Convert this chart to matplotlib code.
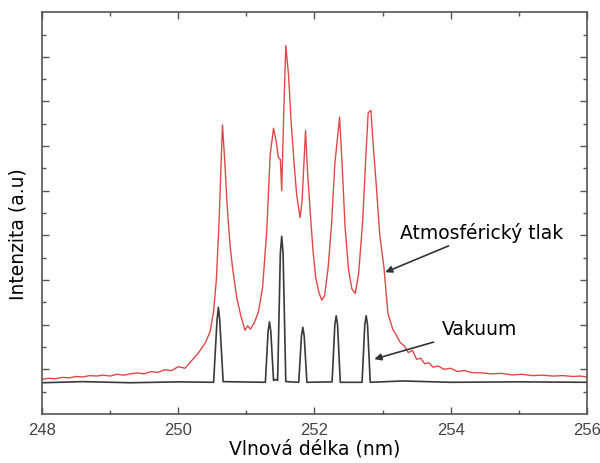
import numpy as np
import matplotlib.pyplot as plt

# atmospheric pressure spectrum (red)
atm_x = [248.00, 248.10, 248.20, 248.30, 248.40, 248.50, 248.60, 248.70, 248.80, 248.90,
         249.00, 249.10, 249.20, 249.30, 249.40, 249.50, 249.60, 249.70, 249.80, 249.90,
         250.00, 250.10, 250.20, 250.30, 250.40, 250.47, 250.52, 250.56, 250.60, 250.65,
         250.68, 250.72, 250.76, 250.80, 250.86, 250.92, 250.98, 251.02, 251.06, 251.12,
         251.18, 251.24, 251.30, 251.35, 251.40, 251.44, 251.47, 251.50, 251.52, 251.55,
         251.58, 251.62, 251.66, 251.70, 251.74, 251.79, 251.82, 251.87, 251.90, 251.94,
         251.98, 252.02, 252.07, 252.11, 252.15, 252.20, 252.25, 252.30, 252.37, 252.41,
         252.45, 252.50, 252.55, 252.60, 252.65, 252.71, 252.76, 252.79, 252.83, 252.86,
         252.91, 252.96, 253.02, 253.08, 253.15, 253.20, 253.26, 253.32, 253.38, 253.44,
         253.50, 253.56, 253.62, 253.68, 253.74, 253.82, 253.90, 254.00, 254.10, 254.20,
         254.30, 254.45, 254.60, 254.75, 254.90, 255.05, 255.20, 255.35, 255.50, 255.65,
         255.80, 255.90, 256.00]
atm_y = [1.55, 1.60, 1.58, 1.64, 1.62, 1.68, 1.66, 1.72, 1.70, 1.74,
         1.70, 1.78, 1.74, 1.80, 1.84, 1.80, 1.90, 1.86, 1.98, 1.94,
         2.12, 2.05, 2.40, 2.75, 3.20, 3.70, 4.60, 6.00, 8.60, 12.95,
         11.50, 9.30, 7.60, 6.50, 5.20, 4.40, 3.75, 3.95, 3.80, 4.10,
         4.60, 5.70, 8.20, 11.60, 12.80, 12.20, 11.50, 11.40, 10.00, 13.50,
         16.50, 15.20, 13.00, 11.30, 9.80, 8.80, 9.60, 12.70, 10.80, 9.00,
         7.30, 6.10, 5.40, 5.10, 5.30, 6.50, 8.40, 11.20, 13.30, 11.00,
         8.40, 6.50, 5.60, 5.40, 6.30, 8.70, 11.80, 13.50, 13.60, 12.20,
         10.20, 8.00, 6.60, 4.50, 3.80, 3.55, 3.20, 3.05, 2.75, 2.85,
         2.45, 2.50, 2.25, 2.30, 2.10, 2.15, 2.00, 2.05, 1.90, 1.95,
         1.86, 1.84, 1.80, 1.82, 1.75, 1.78, 1.72, 1.74, 1.70, 1.72,
         1.68, 1.70, 1.66]

# vacuum spectrum (black)
vac_x = [248.00, 248.60, 249.30, 250.00, 250.52, 250.57, 250.59, 250.61, 250.66,
         251.28, 251.32, 251.34, 251.36, 251.40, 251.43, 251.46, 251.50, 251.52, 251.54, 251.58,
         251.77, 251.81, 251.83, 251.85, 251.89, 252.26, 252.30, 252.32, 252.34, 252.38,
         252.70, 252.74, 252.76, 252.78, 252.82, 253.30, 254.00, 255.00, 256.00]
vac_y = [1.40, 1.45, 1.40, 1.44, 1.42, 4.20, 4.78, 4.20, 1.45,
         1.42, 3.70, 4.13, 3.70, 1.50, 1.55, 1.50, 7.20, 7.96, 7.20, 1.45,
         1.42, 3.50, 3.88, 3.50, 1.42, 1.44, 4.00, 4.40, 4.00, 1.42,
         1.42, 4.00, 4.40, 4.00, 1.42, 1.48, 1.42, 1.44, 1.42]

fig = plt.figure(figsize=(6, 4.64), dpi=100)
ax = fig.add_axes([0.07, 0.1056, 0.908, 0.866])

ax.plot(atm_x, atm_y, color='#e04848', lw=1.0)
ax.plot(vac_x, vac_y, color='#3a3a3a', lw=1.2)

ax.set_xlim(248, 256)
ax.set_ylim(0, 18)
ax.set_xticks([248, 250, 252, 254, 256])
ax.set_xticks([249, 251, 253, 255], minor=True)
ax.set_yticks(np.arange(2, 18, 2))
ax.set_yticks(np.arange(1, 18, 2), minor=True)
ax.set_yticklabels([])
ax.tick_params(which='both', direction='in', top=True, right=True, color='#555555')
ax.tick_params(which='major', length=5, width=1)
ax.tick_params(which='minor', length=3, width=1)
ax.tick_params(axis='x', labelsize=12, labelcolor='#444444', pad=6)
for lbl in ax.get_xticklabels():
    lbl.set_family('Liberation Sans')
for s in ax.spines.values():
    s.set_color('#555555')
    s.set_linewidth(1.2)

ax.set_xlabel('Vlnová délka (nm)', fontsize=13.5, labelpad=1)
ax.set_ylabel('Intenzita (a.u)', fontsize=13.5)
ax.yaxis.set_label_coords(-0.027, 0.45)

ax.annotate('Atmosférický tlak', xy=(253.04, 6.35), xytext=(253.26, 8.15),
            fontsize=13.5, va='center', ha='left',
            arrowprops=dict(arrowstyle='-|>', color='#333333', lw=1.2,
                            shrinkA=2, shrinkB=0, mutation_scale=10))
ax.annotate('Vakuum', xy=(252.88, 2.46), xytext=(253.87, 3.81),
            fontsize=13.5, va='center', ha='left',
            arrowprops=dict(arrowstyle='-|>', color='#333333', lw=1.2,
                            shrinkA=4, shrinkB=0, mutation_scale=10))

fig.savefig('out.png', dpi=100)
